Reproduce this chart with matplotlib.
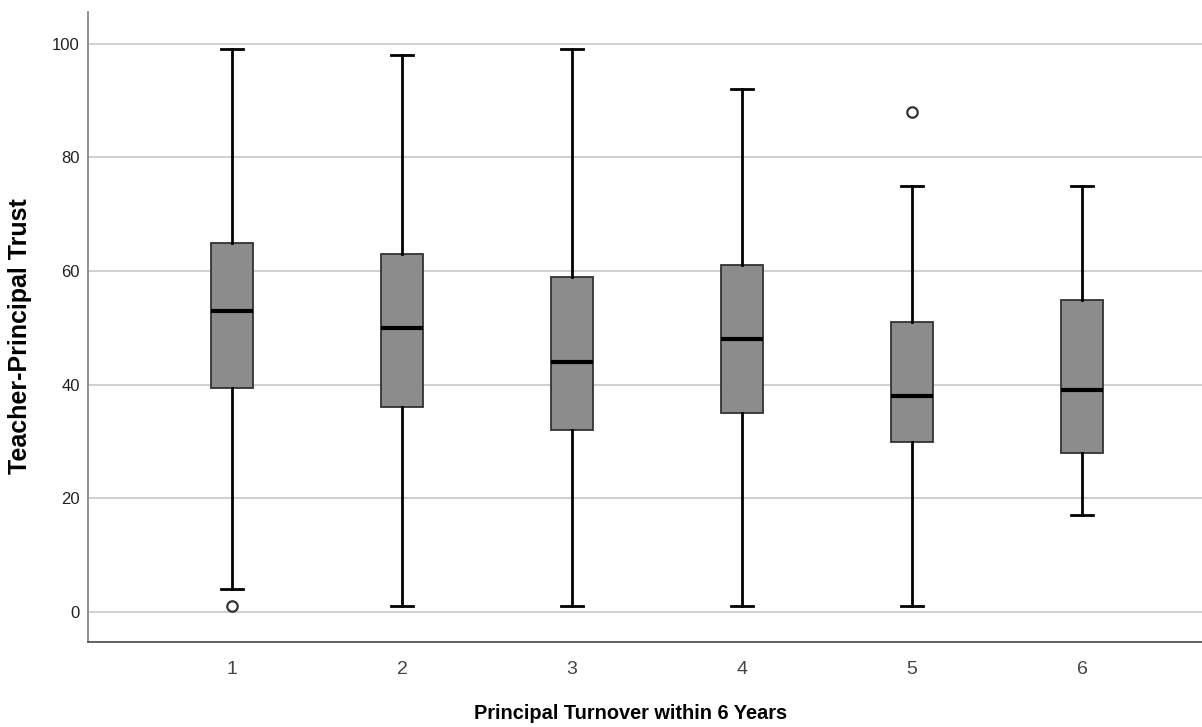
import matplotlib
matplotlib.use("Agg")
import matplotlib.pyplot as plt

# ---------------------------------------------------------------------------
# Data
# ---------------------------------------------------------------------------
groups = ["1", "2", "3", "4", "5", "6"]
whisker_low = [4, 1, 1, 1, 1, 17]
q1 = [39.5, 36, 32, 35, 30, 28]
median = [53, 50, 44, 48, 38, 39]
q3 = [65, 63, 59, 61, 51, 55]
whisker_high = [99, 98, 99, 92, 75, 75]
outliers = [[1], [], [], [], [88], []]

plt.rcParams["font.family"] = ["Liberation Sans", "DejaVu Sans"]

stats = []
for i, g in enumerate(groups):
    stats.append({
        "label": g,
        "whislo": whisker_low[i],
        "q1": q1[i],
        "med": median[i],
        "q3": q3[i],
        "whishi": whisker_high[i],
        "fliers": outliers[i],
    })

fig = plt.figure(figsize=(12.02, 7.27), dpi=100)
ax = fig.add_axes([0.0732, 0.1169, 0.9268, 0.8666])

positions = list(range(1, len(groups) + 1))
ax.bxp(
    stats,
    positions=positions,
    widths=0.25,
    patch_artist=True,
    boxprops=dict(facecolor="#8c8c8c", edgecolor="#333333", linewidth=1.3),
    medianprops=dict(color="black", linewidth=3),
    whiskerprops=dict(color="black", linewidth=2),
    capprops=dict(color="black", linewidth=2),
    capwidths=0.13,
    flierprops=dict(marker="o", markersize=7.5, markerfacecolor="white",
                    markeredgecolor="#333333", markeredgewidth=1.6),
    zorder=3,
)

ax.set_xlim(0.153, 6.706)
ax.set_ylim(-5.28, 105.6)
ax.set_yticks([0, 20, 40, 60, 80, 100])
ax.yaxis.grid(True, color="#cccccc", linewidth=1.3)
ax.set_axisbelow(True)

ax.spines["top"].set_visible(False)
ax.spines["right"].set_visible(False)
ax.spines["left"].set_color("#888888")
ax.spines["bottom"].set_color("#555555")
ax.spines["left"].set_linewidth(1.3)
ax.spines["bottom"].set_linewidth(1.3)

ax.tick_params(axis="y", length=0, pad=6, labelsize=12, labelcolor="#222222")
ax.tick_params(axis="x", length=0, pad=14, labelsize=14, labelcolor="#444444")

ax.set_ylabel("Teacher-Principal Trust", fontsize=18, fontweight="bold")
ax.set_xlabel("Principal Turnover within 6 Years", fontsize=14.4, fontweight="bold")
ax.yaxis.set_label_coords(-0.050, 0.486)
ax.xaxis.set_label_coords(0.487, -0.099)

fig.savefig("out.png", dpi=100)
